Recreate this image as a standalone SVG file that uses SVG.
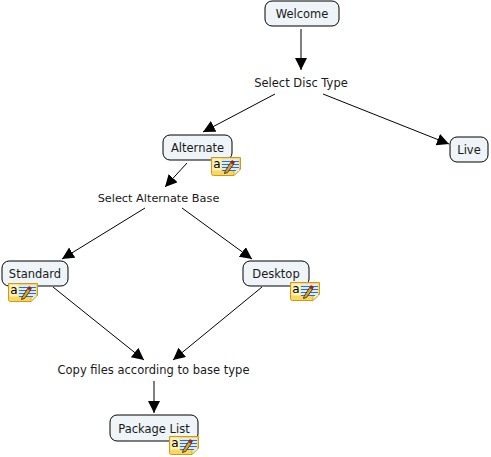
<svg xmlns="http://www.w3.org/2000/svg" width="491" height="457" viewBox="0 0 491 457">
<style>
text{font-family:"DejaVu Sans","Liberation Sans",sans-serif;font-size:11.5px;fill:#1a1a1a;text-anchor:middle}
.n{fill:#eef4f7;stroke:#000;stroke-width:1}
.c{stroke:#000;stroke-width:1;fill:none;marker-end:url(#a)}
</style>
<defs>
<marker id="a" markerUnits="userSpaceOnUse" markerWidth="14" markerHeight="14" refX="12" refY="6" orient="auto"><path d="M0 0L12 6L0 12Z" fill="#000"/></marker>
<g id="note">
<path d="M0.500 .5H29.500V12L23 18.500H2.500Q.5 18.500 .5 16.500Z" fill="#fbd75b" stroke="#c99a1e"/>
<path d="M23 18.500V12H29.500Z" fill="#fff2b0" stroke="#c99a1e" stroke-width=".7"/>
<rect x="1.500" y="1.500" width="9" height="12" fill="#fff3bd"/>
<rect x="11" y="2" width="17" height="12" fill="#dfeaf5"/>
<path d="M11 4.500H28M11 7.500H28M11 10.500H28M11 13.500H25" stroke="#2f6fc8" stroke-width="1"/>
<path d="M14 14.500L19.500 5.500L22.500 7.500L16.500 15.500L13.500 16.500Z" fill="#d9a02b" stroke="#222" stroke-width=".8"/>
<path d="M19.500 5.500L21 3L24 5L22.500 7.500Z" fill="#a02020"/>
<text x="6" y="11" style="font-size:12px;fill:#000">a</text>
</g>
</defs>
<g id="connectors">
<path class="c" d="M301 29V70"/>
<path class="c" d="M275 94L203 132"/>
<path class="c" d="M323 94L449 144"/>
<path class="c" d="M187 163L165 187"/>
<path class="c" d="M145 208L62 259"/>
<path class="c" d="M182 208L252 259"/>
<path class="c" d="M53 287L144 360"/>
<path class="c" d="M262 287L173 360"/>
<path class="c" d="M154 381V413"/>
</g>
<g id="welcome"><rect class="n" x="265" y="1" width="74" height="25" rx="7"/><text x="302" y="18">Welcome</text></g>
<g id="select-disc"><text x="301" y="87">Select Disc Type</text></g>
<g id="alternate"><rect class="n" x="163" y="135" width="69" height="25" rx="7"/><text x="197.500" y="152">Alternate</text><use href="#note" x="211" y="157"/></g>
<g id="live"><rect class="n" x="450" y="137" width="38" height="25" rx="7"/><text x="469" y="154">Live</text></g>
<g id="select-base"><text x="158.500" y="202" style="font-size:11.3px">Select Alternate Base</text></g>
<g id="standard"><rect class="n" x="2" y="261" width="66" height="25" rx="7"/><text x="35" y="278">Standard</text><use href="#note" x="8" y="283"/></g>
<g id="desktop"><rect class="n" x="243" y="261" width="66" height="25" rx="7"/><text x="276" y="278">Desktop</text><use href="#note" x="290" y="282"/></g>
<g id="copy"><text x="153.500" y="374">Copy files according to base type</text></g>
<g id="package"><rect class="n" x="110" y="415" width="88" height="26" rx="7"/><text x="154" y="433">Package List</text><use href="#note" x="169" y="436"/></g>
</svg>
